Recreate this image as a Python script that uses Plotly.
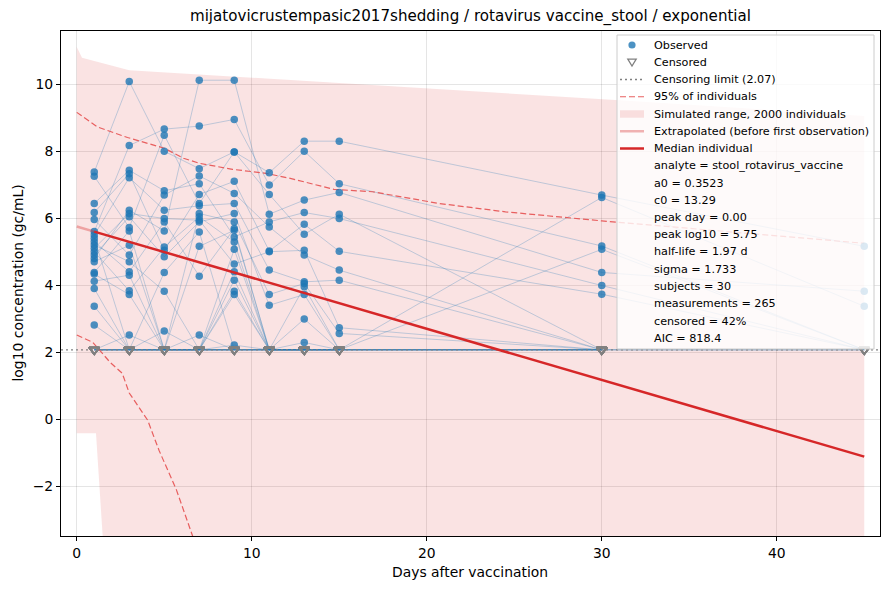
import plotly.graph_objects as go

# sampling days
days = [1, 3, 5, 7, 9, 11, 13, 15, 30, 45]
LOD = 2.07
C = "cens"  # below censoring limit

# one column per day, one row per subject (30 subjects), None = not sampled
d1 = [7.38, 5.60, 4.80, 7.25, 6.44, 5.96, 6.17, 5.50, 5.10, 4.38, 5.30, 4.90, 5.00, 4.70, 3.90,
      5.20, 4.12, 5.40, 4.33, 3.37, 2.81, C, C, C, C, C, C, C, C, C]
d3 = [10.08, 8.17, 6.24, 5.72, 7.43, 4.90, 7.33, 7.21, 6.14, 5.62, 4.40, 6.04, 3.83, 5.19, C,
      4.70, 4.30, C, 3.72, C, C, 2.51, C, C, C, C, C, C, C, C]
d5 = [8.00, 8.66, 5.62, 8.48, 6.82, 6.69, 5.04, 6.24, 5.99, C, 5.89, 4.85, 5.14, C, 4.38,
      3.82, C, C, C, C, C, C, 2.63, C, C, C, C, C, C, C]
d7 = [7.48, 8.75, 10.12, 6.44, 7.03, 7.26, 6.71, 6.37, 5.94, 6.14, 4.27, 5.89, 6.04, 5.16, 5.59,
      C, C, C, C, 2.51, C, C, C, C, C, C, C, C, C, C]
d9 = [7.98, 8.95, 10.12, 7.98, 5.44, 6.74, 7.10, 6.44, 4.63, 5.89, 5.69, 6.14, 5.29, 5.64, C,
      5.07, 4.40, C, 4.15, C, 3.82, C, 3.72, 2.21, C, C, C, C, C, C]
d11 = [7.36, 6.99, 6.12, 6.71, 5.89, 5.74, 5.02, 4.45, 5.00, 3.72, C, 3.40, C, C, C,
       C, C, C, C, C, C, C, C, C, C, C, C, C, None, None]
d13 = [8.30, 8.00, 6.54, 5.52, 6.17, 4.90, 5.82, 4.10, 5.04, 4.05, 3.95, 3.72, C, 2.99, C,
       2.29, C, C, C, C, C, C, C, C, C, C, C, C, None, None]
d15 = [8.30, 7.03, 6.77, 6.12, 5.99, 4.45, 5.01, 4.15, 2.73, 2.56, C, C, C, C, C,
       C, C, C, C, C, C, C, C, C, C, C, None, None, None, None]
d30 = [6.69, 5.17, 4.38, C, 3.99, C, 3.73, C, C, C, 6.62, C, 5.07, C, C,
       C, C, C, C, C, None, None, None, None, None, None, None, None, None, None]
d45 = [5.16, C, 3.82, C, C, C, C, C, None, None, 3.37, None, C, None, None,
       None, None, None, None, None, None, None, None, None, None, None, None, None, None, None]
columns = [d1, d3, d5, d7, d9, d11, d13, d15, d30, d45]

# simulated 2000-individual envelope
sim_up_days = [0, 0.3, 3.0, 13, 20, 31, 45]
sim_upper = [11.11, 10.79, 10.42, 10.10, 9.87, 9.52, 9.05]
sim_lo_days = [0, 1.1, 2.2, 10, 20, 30, 45]
sim_lower = [-0.42, -0.42, -9.3, -16, -22, -28, -35]

# 95% of individuals
p95_hi_days = [0, 1.2, 2.9, 5, 6.1, 7, 8.9, 10.8, 12.2, 14.7, 16.9, 20.7, 24.5, 28.3, 30, 45]
p95_hi = [9.16, 8.72, 8.41, 8.09, 7.79, 7.64, 7.46, 7.34, 7.19, 6.86, 6.79, 6.44, 6.19, 5.99, 5.92, 5.25]
p95_lo_days = [0, 0.9, 1.9, 2.6, 3.0, 4.05, 4.7, 5.7, 6.6, 8.0]
p95_lo = [2.51, 2.30, 1.70, 1.37, 0.78, -0.03, -0.93, -2.12, -3.46, -5.6]

# median individual
extrap_days = [0, 1]
extrap_vals = [5.75, 5.60]
median_days = [1, 45]
median_vals = [5.60, -1.12]

legend_items = [("circle", "Observed"), ("tri", "Censored"), ("dot", "Censoring limit (2.07)"),
                ("dash", "95% of individuals"), ("fill", "Simulated range, 2000 individuals"),
                ("light", "Extrapolated (before first observation)"), ("red", "Median individual")]
info = ["analyte = stool_rotavirus_vaccine", "a0 = 0.3523", "c0 = 13.29", "peak day = 0.00",
        "peak log10 = 5.75", "half-life = 1.97 d", "sigma = 1.733", "subjects = 30",
        "measurements = 265", "censored = 42%", "AIC = 818.4"]

RED = "#d62728"
LIGHT_RED = "rgba(214,39,40,0.35)"
DASH_RED = "rgba(230,80,80,0.9)"
FILL = "rgba(214,39,40,0.13)"
BLUE = "rgba(31,119,180,0.8)"

fig = go.Figure()

# envelope
fig.add_trace(go.Scatter(
    x=sim_up_days + sim_lo_days[::-1], y=sim_upper + sim_lower[::-1],
    fill="toself", fillcolor=FILL, line=dict(width=0), mode="lines", hoverinfo="skip"))

# subject trajectories
n_subj = len(d1)
for i in range(n_subj):
    xs, ys = [], []
    for d, col in zip(days, columns):
        v = col[i]
        if v is None:
            continue
        xs.append(d)
        ys.append(LOD if v == C else v)
    fig.add_trace(go.Scatter(x=xs, y=ys, mode="lines",
                             line=dict(color="rgba(31,119,180,0.27)", width=1)))

fig.add_trace(go.Scatter(x=[-0.9, 45.9], y=[LOD, LOD], mode="lines",
                         line=dict(color="gray", width=1.3, dash="2px,3px")))
fig.add_trace(go.Scatter(x=p95_hi_days, y=p95_hi, mode="lines",
                         line=dict(color=DASH_RED, width=1.2, dash="6px,3px")))
fig.add_trace(go.Scatter(x=p95_lo_days, y=p95_lo, mode="lines",
                         line=dict(color=DASH_RED, width=1.2, dash="6px,3px")))

# observed and censored points
ox, oy, cx, cy = [], [], [], []
for d, col in zip(days, columns):
    for v in col:
        if v is None:
            continue
        if v == C:
            cx.append(d)
            cy.append(LOD)
        else:
            ox.append(d)
            oy.append(v)
fig.add_trace(go.Scatter(x=ox, y=oy, mode="markers",
                         marker=dict(color=BLUE, size=7.5, line=dict(width=0))))
fig.add_trace(go.Scatter(x=cx, y=cy, mode="markers",
                         marker=dict(symbol="triangle-down-open", color="gray", size=9,
                                     line=dict(width=1.5))))

fig.add_trace(go.Scatter(x=extrap_days, y=extrap_vals, mode="lines",
                         line=dict(color=LIGHT_RED, width=2.5)))
fig.add_trace(go.Scatter(x=median_days, y=median_vals, mode="lines",
                         line=dict(color=RED, width=2.5)))

# page body adds an 8px offset, so the figure is a bit smaller than the window
W, H = 882, 582
ML, MR, MT, MB = 53, 10, 23, 54
plot_w = W - ML - MR
plot_h = H - MT - MB


def px(x):
    return (x - 8 - ML) / plot_w


def py(y):
    return 1 - (y - 8 - MT) / plot_h


# legend box drawn by hand (matplotlib-like spacing)
shapes = [dict(type="rect", xref="paper", yref="paper", x0=px(617), x1=px(874),
               y0=py(349), y1=py(35), fillcolor="rgba(255,255,255,0.8)",
               line=dict(color="#cccccc", width=1), layer="above")]
annotations = []
row0, step = 45, 17.25
gx0, gx1, gxc, tx = 620, 644, 632, 652
for k, (kind, label) in enumerate(legend_items + [(None, t) for t in info]):
    ry = row0 + k * step
    if kind == "circle":
        shapes.append(dict(type="circle", xref="paper", yref="paper", x0=px(gxc - 3.6),
                           x1=px(gxc + 3.6), y0=py(ry + 3.6), y1=py(ry - 3.6),
                           fillcolor=BLUE, line=dict(width=0), layer="above"))
    elif kind == "tri":
        path = "M {} {} L {} {} L {} {} Z".format(px(gxc - 4.2), py(ry - 3.2), px(gxc + 4.2),
                                                  py(ry - 3.2), px(gxc), py(ry + 3.8))
        shapes.append(dict(type="path", xref="paper", yref="paper", path=path,
                           line=dict(color="gray", width=1.3), layer="above"))
    elif kind == "fill":
        shapes.append(dict(type="rect", xref="paper", yref="paper", x0=px(gx0), x1=px(gx1),
                           y0=py(ry + 3.7), y1=py(ry - 3.7), fillcolor=FILL,
                           line=dict(width=0), layer="above"))
    elif kind is not None:
        style = {"dot": dict(color="gray", width=1.3, dash="2px,3px"),
                 "dash": dict(color=DASH_RED, width=1.2, dash="6px,3px"),
                 "light": dict(color=LIGHT_RED, width=2.5),
                 "red": dict(color=RED, width=2.5)}[kind]
        shapes.append(dict(type="line", xref="paper", yref="paper", x0=px(gx0), x1=px(gx1),
                           y0=py(ry), y1=py(ry), line=style, layer="above"))
    annotations.append(dict(text=label, xref="paper", yref="paper", x=px(tx), y=py(ry),
                            xanchor="left", yanchor="middle", showarrow=False,
                            font=dict(size=11.2)))

annotations += [
    dict(text="Days after vaccination", xref="paper", yref="paper",
         x=px(470), y=py(572), xanchor="center", yanchor="middle",
         showarrow=False, font=dict(size=13.9)),
    dict(text="log10 concentration (gc/mL)", xref="paper", yref="paper",
         x=px(17), y=0.5, textangle=-90, xanchor="center", yanchor="middle",
         showarrow=False, font=dict(size=13.9)),
]

axis_common = dict(showline=True, linecolor="black", linewidth=1, mirror=True,
                   ticks="outside", ticklen=4, tickcolor="black", automargin=False,
                   gridcolor="rgba(0,0,0,0.1)", zeroline=False,
                   tickfont=dict(size=13.9, color="black"))

fig.update_layout(
    width=W, height=H,
    margin=dict(l=ML, r=MR, t=MT, b=MB),
    paper_bgcolor="white", plot_bgcolor="white",
    font=dict(family="DejaVu Sans", size=13.9, color="black"),
    title=dict(text="mijatovicrustempasic2017shedding / rotavirus vaccine_stool / exponential",
               x=0.5, xanchor="center", xref="paper", y=1 - 8 / H, yanchor="middle",
               font=dict(size=15.1), automargin=False),
    xaxis=dict(range=[-0.9, 45.9], tickvals=[0, 10, 20, 30, 40], **axis_common),
    yaxis=dict(range=[-3.49, 11.59], tickvals=[-2, 0, 2, 4, 6, 8, 10], **axis_common),
    showlegend=False,
    shapes=shapes,
    annotations=annotations,
)

fig.write_html("out.html")
